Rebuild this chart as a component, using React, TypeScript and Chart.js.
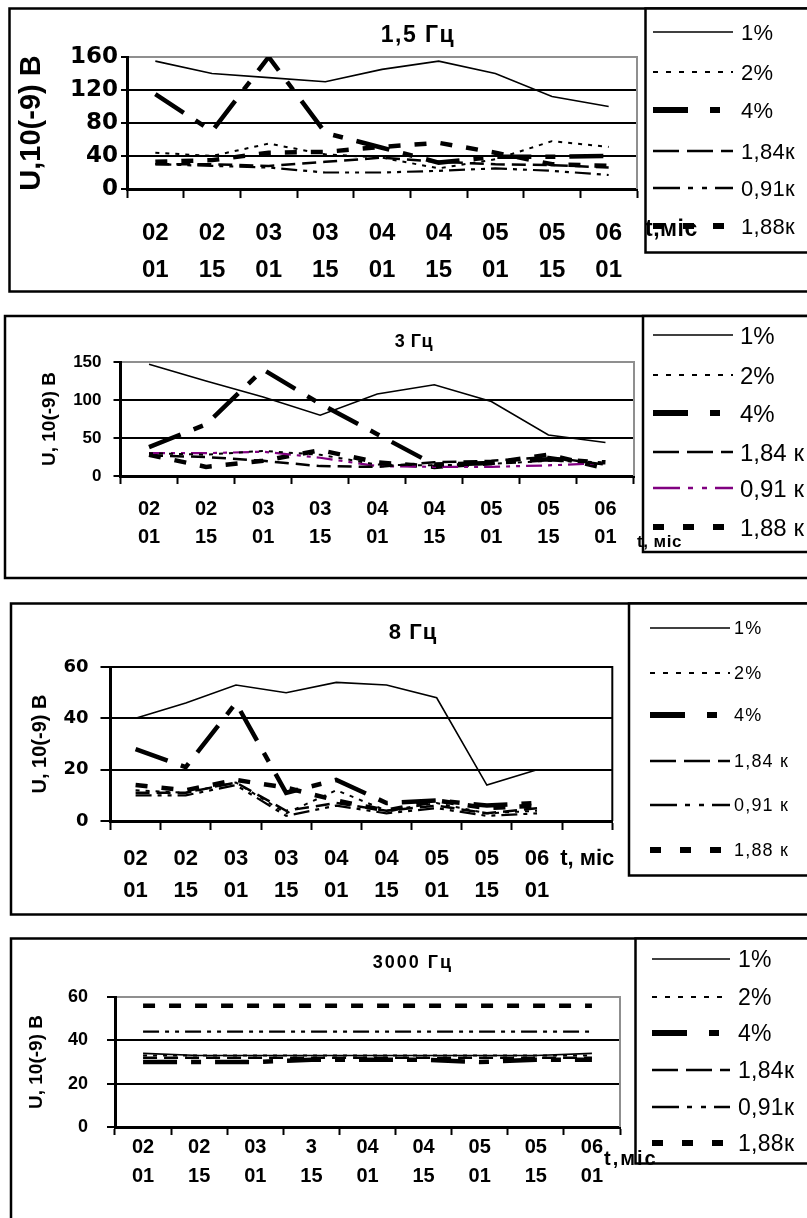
import React, { useEffect, useRef } from 'react';
import { Chart, registerables } from 'chart.js';

Chart.register(...registerables);

// ---------------- data ----------------
const DATES = [['02', '01'], ['02', '15'], ['03', '01'], ['03', '15'], ['04', '01'], ['04', '15'], ['05', '01'], ['05', '15'], ['06', '01']];
const DATES_P3 = [['02', '01'], ['02', '15'], ['03', '01'], ['03', '15'], ['04', '01'], ['04', '15'], ['05', '01'], ['05', '15'], ['06', '01'], ['t, міс']];
const DATES_P4 = [['02', '01'], ['02', '15'], ['03', '01'], ['3', '15'], ['04', '01'], ['04', '15'], ['05', '01'], ['05', '15'], ['06', '01']];

const NAMES_A = ['1%', '2%', '4%', '1,84к', '0,91к', '1,88к'];
const NAMES_B = ['1%', '2%', '4%', '1,84 к', '0,91 к', '1,88 к'];

// 1,5 Гц
const P1_1 = [155, 140, 135, 130, 145, 155, 140, 112, 100];
const P1_2 = [44, 40, 55, 42, 38, 25, 36, 58, 51];
const P1_4 = [115, 70, 160, 68, 50, 32, 39, 39, 40];
const P1_184 = [30, 30, 28, 33, 38, 33, 30, 29, 26];
const P1_091 = [30, 28, 26, 20, 20, 22, 25, 22, 17];
const P1_188 = [33, 35, 44, 45, 51, 56, 44, 30, 28];

// 3 Гц
const P2_1 = [147, 125, 104, 80, 108, 120, 98, 54, 44];
const P2_2 = [30, 28, 33, 28, 15, 14, 16, 20, 18];
const P2_4 = [38, 68, 140, 95, 55, 15, 17, 22, 18];
const P2_184 = [27, 25, 20, 13, 12, 18, 20, 25, 15];
const P2_091 = [30, 30, 32, 24, 13, 12, 12, 14, 17];
const P2_188 = [28, 12, 20, 34, 18, 12, 17, 28, 10];

// 8 Гц
const P3_1 = [40, 46, 53, 50, 54, 53, 48, 14, 20];
const P3_2 = [12, 11, 15, 3, 12, 4, 7, 3, 4];
const P3_4 = [28, 21, 46, 11, 16, 7, 8, 6, 7];
const P3_184 = [11, 11, 15, 4, 7, 4, 6, 3, 5];
const P3_091 = [10, 10, 14, 2, 6, 3, 5, 2, 3];
const P3_188 = [14, 12, 16, 13, 8, 4, 8, 5, 6];

// 3000 Гц
const P4_1 = [34, 33, 33, 33, 33, 33, 33, 33, 34];
const P4_2 = [33, 33, 33, 33, 33, 33, 33, 33, 33];
const P4_4 = [30, 30, 30, 31, 31, 31, 30, 31, 31];
const P4_184 = [32, 32, 32, 32, 32, 32, 32, 32, 32];
const P4_091 = [44, 44, 44, 44, 44, 44, 44, 44, 44];
const P4_188 = [56, 56, 56, 56, 56, 56, 56, 56, 56];

// ---------------- styles ----------------
const ARIAL = 'Liberation Sans, Arial, sans-serif';
const DEJAVU = 'DejaVu Sans, sans-serif';
const GREY = '#8f8f8f';

const LINE_STYLES = [
  { width: 1.6, dash: [] as number[] },
  { width: 2, dash: [4, 6] },
  { width: 4.5, dash: [34, 14, 10, 14] },
  { width: 2.5, dash: [14, 7] },
  { width: 2.2, dash: [16, 6, 4, 6, 4, 6] },
  { width: 4.5, dash: [12, 14] },
];

const LEGEND_SAMPLES = [
  { width: 1.6, dash: '' },
  { width: 2, dash: '5 8' },
  { width: 6, dash: '35 22 10 100' },
  { width: 2.5, dash: '26 8' },
  { width: 2.5, dash: '27 8 5 9 5 8' },
  { width: 6, dash: '11 19' },
];

const BLACK6 = ['#000', '#000', '#000', '#000', '#000', '#000'];
const PURPLE6 = ['#000', '#000', '#000', '#000', '#800080', '#000'];

type PanelDef = {
  labels: any[];
  series: number[][];
  colors: string[];
  yMax: number;
  yStep: number;
  frame: string;
  cl: number; ct: number; cr: number; cb: number;
  pl: number; pt: number; pr: number; pb: number;
  yTitle: string; yTitleSize: number; yTitleX: number;
  yTickFont: any; yTickLen: number; yPad: number;
  xTickFont: any; xTickLen: number; xPad: number;
};

const PANELS: PanelDef[] = [
  {
    labels: DATES, series: [P1_1, P1_2, P1_4, P1_184, P1_091, P1_188], colors: BLACK6,
    yMax: 160, yStep: 40, frame: GREY,
    cl: 11, ct: 20, cr: 645, cb: 290, pl: 127, pt: 57, pr: 637, pb: 189,
    yTitle: 'U,10(-9) В', yTitleSize: 29, yTitleX: 32,
    yTickFont: { family: DEJAVU, size: 23, weight: 'bold' }, yTickLen: 6, yPad: 3,
    xTickFont: { family: ARIAL, size: 24, weight: 'bold', lineHeight: 37 / 24 }, xTickLen: 9, xPad: 17,
  },
  {
    labels: DATES, series: [P2_1, P2_2, P2_4, P2_184, P2_091, P2_188], colors: PURPLE6,
    yMax: 150, yStep: 50, frame: GREY,
    cl: 6, ct: 330, cr: 642, cb: 577, pl: 120.5, pt: 362, pr: 634, pb: 476,
    yTitle: 'U, 10(-9) В', yTitleSize: 19, yTitleX: 50,
    yTickFont: { family: ARIAL, size: 17, weight: 'bold' }, yTickLen: 7, yPad: 12,
    xTickFont: { family: ARIAL, size: 20, weight: 'bold', lineHeight: 28 / 20 }, xTickLen: 8, xPad: 11,
  },
  {
    labels: DATES_P3, series: [P3_1, P3_2, P3_4, P3_184, P3_091, P3_188], colors: BLACK6,
    yMax: 60, yStep: 20, frame: '#000',
    cl: 12, ct: 620, cr: 628, cb: 914, pl: 110.5, pt: 667, pr: 614, pb: 821,
    yTitle: 'U, 10(-9) В', yTitleSize: 20, yTitleX: 40,
    yTickFont: { family: DEJAVU, size: 18, weight: 'bold' }, yTickLen: 10, yPad: 12,
    xTickFont: { family: ARIAL, size: 22, weight: 'bold', lineHeight: 32 / 22 }, xTickLen: 9, xPad: 13,
  },
  {
    labels: DATES_P4, series: [P4_1, P4_2, P4_4, P4_184, P4_091, P4_188], colors: BLACK6,
    yMax: 60, yStep: 20, frame: GREY,
    cl: 12, ct: 950, cr: 634, cb: 1216, pl: 115, pt: 997, pr: 620, pb: 1127,
    yTitle: 'U, 10(-9) В', yTitleSize: 19, yTitleX: 37,
    yTickFont: { family: ARIAL, size: 18, weight: 'bold' }, yTickLen: 8, yPad: 19,
    xTickFont: { family: ARIAL, size: 20, weight: 'bold', lineHeight: 29 / 20 }, xTickLen: 8, xPad: -2,
  },
];

const BOXES = [
  { x: 9.5, y: 8.5, w: 900, h: 283 },
  { x: 5, y: 316, w: 900, h: 262 },
  { x: 11, y: 603.5, w: 900, h: 311 },
  { x: 11, y: 938.5, w: 900, h: 400 },
];

const LEGENDS = [
  { x: 645.5, y: 8.5, h: 244, sx1: 653, sx2: 733, tx: 741, rows: [32, 72, 110, 151, 188, 226], fs: 22, ls: 0.3, names: NAMES_A, colors: BLACK6 },
  { x: 643, y: 316, h: 236, sx1: 653, sx2: 733, tx: 740, rows: [335, 375, 413, 452, 488, 527], fs: 24, ls: 0, names: NAMES_B, colors: PURPLE6 },
  { x: 629, y: 603.5, h: 272, sx1: 650, sx2: 730, tx: 734, rows: [628, 673, 715, 761, 805, 850], fs: 18, ls: 1.2, names: NAMES_B, colors: BLACK6 },
  { x: 635.5, y: 938.5, h: 225, sx1: 652, sx2: 730, tx: 738, rows: [959, 997, 1033, 1070, 1107, 1143], fs: 23, ls: 0.3, names: NAMES_A, colors: BLACK6 },
];

const TITLES = [
  { text: '1,5 Гц', x: 418, y: 34, fs: 23, ls: 1.5 },
  { text: '3 Гц', x: 414, y: 341, fs: 18, ls: 0.5 },
  { text: '8 Гц', x: 413, y: 631, fs: 22, ls: 1 },
  { text: '3000 Гц', x: 413, y: 962, fs: 18, ls: 2 },
];

const AXIS_NOTES = [
  { text: 't,міс', x: 645, y: 228, fs: 23, ls: 0.5 },
  { text: 't, міс', x: 637, y: 541, fs: 17, ls: 0.5 },
  { text: 't,міс', x: 604, y: 1158, fs: 20, ls: 2 },
];

// ---------------- chart ----------------
function LinePanel({ p }: { p: PanelDef }) {
  const ref = useRef<HTMLCanvasElement>(null);
  const w = p.cr - p.cl;
  const h = p.cb - p.ct;
  useEffect(() => {
    const yw = p.pl - p.cl;
    const xh = p.cb - p.pb;
    const ylh = p.yTitleSize * 1.2;
    const framePlugin = {
      id: 'frameRight',
      beforeDatasetsDraw(chart: any) {
        const { ctx, chartArea: a } = chart;
        ctx.save();
        ctx.strokeStyle = p.frame;
        ctx.lineWidth = 2;
        ctx.beginPath();
        ctx.moveTo(a.right, a.top - 1);
        ctx.lineTo(a.right, a.bottom);
        ctx.stroke();
        ctx.restore();
      },
    };
    const chart = new Chart(ref.current as HTMLCanvasElement, {
      type: 'line',
      data: {
        labels: p.labels,
        datasets: p.series.map((d, i) => ({
          label: String(i),
          data: d,
          borderColor: p.colors[i],
          backgroundColor: p.colors[i],
          borderWidth: LINE_STYLES[i].width,
          borderDash: LINE_STYLES[i].dash,
          borderCapStyle: 'butt',
          borderJoinStyle: 'miter',
          pointRadius: 0,
          pointHoverRadius: 0,
          fill: false,
          tension: 0,
        })),
      },
      options: {
        responsive: false,
        animation: false,
        events: [],
        layout: { autoPadding: false, padding: { left: 0, top: p.pt - p.ct, right: p.cr - p.pr, bottom: 0 } },
        plugins: { legend: { display: false }, tooltip: { enabled: false }, title: { display: false } },
        scales: {
          x: {
            type: 'category',
            offset: true,
            grid: { display: true, drawOnChartArea: false, drawTicks: true, tickLength: p.xTickLen, tickColor: '#000', tickWidth: 2, offset: true },
            border: { display: true, color: '#000', width: 3 },
            ticks: { color: '#000', font: p.xTickFont, padding: p.xPad, maxRotation: 0, minRotation: 0, autoSkip: false },
            afterFit: (s: any) => { s.height = xh; },
          },
          y: {
            type: 'linear',
            min: 0,
            max: p.yMax,
            ticks: { stepSize: p.yStep, color: '#000', font: p.yTickFont, padding: p.yPad },
            grid: {
              color: (c: any) => (c.tick && c.tick.value === p.yMax ? p.frame : '#000'),
              lineWidth: 2,
              tickColor: '#000',
              tickLength: p.yTickLen,
              tickWidth: 2,
            },
            border: { display: true, color: '#000', width: 3 },
            title: {
              display: true,
              text: p.yTitle,
              color: '#000',
              font: { family: ARIAL, size: p.yTitleSize, weight: 'bold' },
              padding: { top: p.yTitleX - p.cl - ylh / 2, bottom: 0 },
            },
            afterFit: (s: any) => { s.width = yw; },
          },
        },
      } as any,
      plugins: [framePlugin],
    });
    return () => chart.destroy();
  }, []);
  return (
    <canvas
      ref={ref}
      width={w}
      height={h}
      style={{ position: 'absolute', left: p.cl, top: p.ct, width: w, height: h }}
    />
  );
}

export default function App() {
  useEffect(() => {
    document.body.style.overflow = 'hidden';
  }, []);
  return (
    <div style={{ position: 'absolute', left: 0, top: 0, width: 807, height: 1218, overflow: 'hidden', background: '#fff' }}>
      {PANELS.map((p, i) => (
        <LinePanel key={i} p={p} />
      ))}
      <svg width={807} height={1218} style={{ position: 'absolute', left: 0, top: 0, pointerEvents: 'none' }}>
        {BOXES.map((b, i) => (
          <rect key={'b' + i} x={b.x} y={b.y} width={b.w} height={b.h} fill="none" stroke="#000" strokeWidth={2.5} />
        ))}
        {LEGENDS.map((l, i) => (
          <g key={'l' + i}>
            <rect x={l.x} y={l.y} width={300} height={l.h} fill="#fff" stroke="#000" strokeWidth={2.5} />
          </g>
        ))}
        {TITLES.map((t, i) => (
          <text key={'t' + i} x={t.x} y={t.y} textAnchor="middle" dominantBaseline="central"
            style={{ fontFamily: ARIAL, fontSize: t.fs, fontWeight: 'bold', letterSpacing: t.ls }} fill="#000">{t.text}</text>
        ))}
        {AXIS_NOTES.map((t, i) => (
          <text key={'n' + i} x={t.x} y={t.y} dominantBaseline="central"
            style={{ fontFamily: ARIAL, fontSize: t.fs, fontWeight: 'bold', letterSpacing: t.ls }} fill="#000">{t.text}</text>
        ))}
        {LEGENDS.map((l, i) => (
          <g key={'ls' + i}>
            {l.rows.map((ry, k) => (
              <g key={k}>
                <line x1={l.sx1} y1={ry} x2={l.sx2} y2={ry} stroke={l.colors[k]} strokeWidth={LEGEND_SAMPLES[k].width}
                  strokeDasharray={LEGEND_SAMPLES[k].dash || undefined} />
                <text x={l.tx} y={ry} dominantBaseline="central"
                  style={{ fontFamily: ARIAL, fontSize: l.fs, letterSpacing: l.ls }} fill="#000">{l.names[k]}</text>
              </g>
            ))}
          </g>
        ))}
      </svg>
    </div>
  );
}
